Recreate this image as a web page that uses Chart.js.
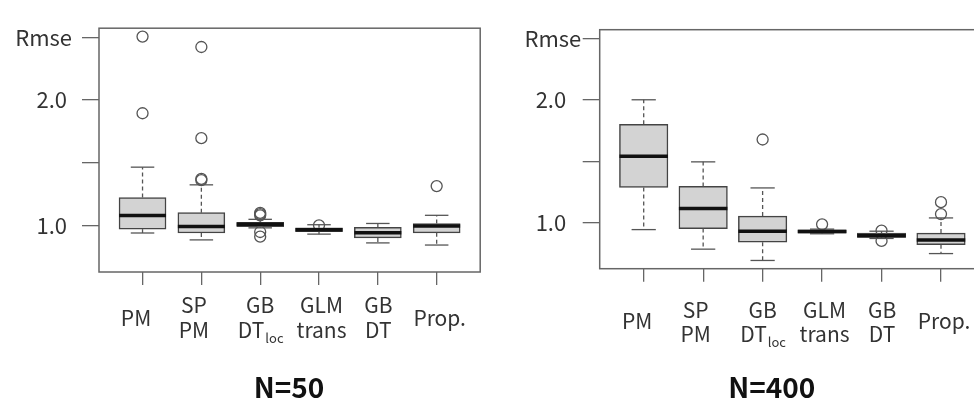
<!DOCTYPE html>
<html>
<head>
<meta charset="utf-8">
<script src="https://cdn.jsdelivr.net/npm/chart.js@4.4.0/dist/chart.umd.min.js"></script>
<style>
html, body { margin: 0; padding: 0; background: #fff; overflow: hidden; }
#wrap { position: relative; width: 974px; height: 401px; overflow: hidden; }
#c50 { position: absolute; left: 0; top: 0; }
#c400 { position: absolute; left: 487px; top: 0; }
</style>
</head>
<body>
<div id="wrap">
  <canvas id="c50" width="487" height="401" style="width:487px;height:401px"></canvas>
  <canvas id="c400" width="505" height="401" style="width:505px;height:401px"></canvas>
</div>
<script>
// categories (DT_loc -> "loc" drawn as subscript)
const categories = [['PM'], ['SP', 'PM'], ['GB', 'DT_loc'], ['GLM', 'trans'], ['GB', 'DT'], ['Prop.']];
const yTicks = [1.0, 1.5, 2.0, 2.5];
const yTickLabels = ['1.0', '', '2.0', ''];
const yName = 'Rmse';

// N=50
const n50Low = [0.939, 0.884, 0.980, 0.930, 0.860, 0.843];
const n50Q1 = [0.970, 0.939, 0.990, 0.950, 0.900, 0.940];
const n50Median = [1.078, 0.990, 1.008, 0.965, 0.940, 0.995];
const n50Q3 = [1.222, 1.101, 1.025, 0.980, 0.985, 1.015];
const n50High = [1.464, 1.323, 1.048, 1.005, 1.015, 1.080];
const n50Outliers = [[2.505, 1.894], [2.422, 1.695, 1.371, 1.360], [1.100, 1.090, 1.080, 0.947, 0.910], [1.000], [], [1.313]];

// N=400
const n400Low = [0.946, 0.787, 0.695, 0.912, 0.874, 0.751];
const n400Q1 = [1.289, 0.954, 0.843, 0.918, 0.882, 0.823];
const n400Median = [1.543, 1.118, 0.933, 0.930, 0.897, 0.862];
const n400Q3 = [1.802, 1.297, 1.056, 0.944, 0.918, 0.918];
const n400High = [2.002, 1.497, 1.285, 0.950, 0.933, 1.041];
const n400Outliers = [[], [], [1.679], [0.989], [0.938, 0.854], [1.169, 1.072]];

Chart.defaults.font.family = "'Noto Sans CJK JP', 'Noto Sans', sans-serif";
Chart.defaults.color = '#333';

const labelShift = [-6.5, -7.5, 0, 2.5, 0.5, 3];

const boxPlugin = {
    id: 'boxParts',
    afterDatasetsDraw(chart, args, o) {
        const { ctx, scales: { x, y } } = chart;
        const half = o.boxWidth / 2;
        const line = (x1, y1, x2, y2) => {
            ctx.beginPath(); ctx.moveTo(x1, y1); ctx.lineTo(x2, y2); ctx.stroke();
        };
        ctx.save();
        for (let i = 0; i < o.median.length; i++) {
            const cx = x.getPixelForValue(i);
            ctx.strokeStyle = '#555';
            ctx.lineWidth = 1.3;
            ctx.setLineDash([4, 3]);
            line(cx, y.getPixelForValue(o.q3[i]), cx, y.getPixelForValue(o.high[i]));
            line(cx, y.getPixelForValue(o.q1[i]), cx, y.getPixelForValue(o.low[i]));
            ctx.setLineDash([]);
            line(cx - half / 2, y.getPixelForValue(o.high[i]), cx + half / 2, y.getPixelForValue(o.high[i]));
            line(cx - half / 2, y.getPixelForValue(o.low[i]), cx + half / 2, y.getPixelForValue(o.low[i]));
            ctx.strokeStyle = '#111';
            ctx.lineWidth = 3.5;
            line(cx - half, y.getPixelForValue(o.median[i]), cx + half, y.getPixelForValue(o.median[i]));
        }
        ctx.restore();
    },
    afterDraw(chart, args, o) {
        const { ctx, chartArea: a, scales: { x, y } } = chart;
        ctx.save();
        // frame
        ctx.strokeStyle = '#666';
        ctx.lineWidth = 1.5;
        ctx.strokeRect(a.left, a.top, a.right - a.left, a.bottom - a.top);
        // y name at top tick
        ctx.fillStyle = '#333';
        ctx.font = "22px 'Noto Sans CJK JP'";
        ctx.textAlign = 'right';
        ctx.textBaseline = 'middle';
        ctx.fillText(yName, a.left - o.nameGap, y.getPixelForValue(yTicks[3]));
        // category labels
        ctx.font = "21px 'Noto Sans CJK JP'";
        categories.forEach((lines, i) => {
            const cx = x.getPixelForValue(i) + labelShift[i];
            const ys = lines.length === 1 ? [o.labelMid] : o.labelLines;
            lines.forEach((t, k) => {
                if (t.includes('_')) {
                    const [main, sub] = t.split('_');
                    ctx.font = "21px 'Noto Sans CJK JP'";
                    const w1 = ctx.measureText(main).width;
                    ctx.font = "13px 'Noto Sans CJK JP'";
                    const w2 = ctx.measureText(sub).width;
                    const left = cx - (w1 + w2) / 2;
                    ctx.textAlign = 'left';
                    ctx.font = "21px 'Noto Sans CJK JP'";
                    ctx.fillText(main, left, ys[k]);
                    ctx.font = "13px 'Noto Sans CJK JP'";
                    ctx.fillText(sub, left + w1 + 1, ys[k] + 8);
                    ctx.font = "21px 'Noto Sans CJK JP'";
                } else {
                    ctx.textAlign = 'center';
                    ctx.fillText(t, cx, ys[k]);
                }
            });
        });
        // panel title
        ctx.font = "bold 28px 'Noto Sans CJK JP'";
        ctx.fillStyle = '#111';
        ctx.textAlign = 'center';
        ctx.fillText(o.title, o.titleX, o.titleY);
        ctx.restore();
    }
};

function makeChart(id, s, geo) {
    const boxes = s.q1.map((v, i) => ({ x: i, y: [v, s.q3[i]] }));
    const points = [];
    s.outliers.forEach((arr, i) => arr.forEach(v => points.push({ x: i, y: v })));
    new Chart(document.getElementById(id), {
        type: 'bar',
        data: {
            datasets: [{
                type: 'scatter',
                data: points,
                pointRadius: 5.5,
                pointBorderWidth: 1.3,
                borderColor: '#555',
                backgroundColor: 'rgba(0,0,0,0)',
                order: 0
            }, {
                data: boxes,
                backgroundColor: '#d3d3d3',
                borderColor: '#444',
                borderWidth: 1.5,
                borderSkipped: false,
                barThickness: geo.boxWidth,
                grouped: false,
                order: 1
            }]
        },
        options: {
            responsive: false,
            animation: false,
            layout: { padding: { top: geo.top, right: geo.right, left: 0, bottom: 0 } },
            plugins: {
                legend: { display: false },
                tooltip: { enabled: false },
                boxParts: {
                    boxWidth: geo.boxWidth,
                    low: s.low, q1: s.q1, median: s.median, q3: s.q3, high: s.high,
                    nameGap: geo.nameGap,
                    labelMid: geo.labelMid, labelLines: geo.labelLines,
                    title: geo.title, titleX: geo.titleX, titleY: geo.titleY
                }
            },
            scales: {
                x: {
                    type: 'linear',
                    min: -0.74,
                    max: 5.74,
                    offset: false,
                    afterBuildTicks: sc => { sc.ticks = categories.map((c, i) => ({ value: i })); },
                    afterFit: sc => { sc.height = geo.bottomSpace; },
                    ticks: { display: false },
                    grid: { offset: false, drawOnChartArea: false, tickLength: 13, color: '#666', lineWidth: 1.3 },
                    border: { display: false }
                },
                y: {
                    min: 0.628,
                    max: 2.572,
                    afterBuildTicks: sc => { sc.ticks = yTicks.map(v => ({ value: v })); },
                    afterFit: sc => { sc.width = geo.left; },
                    ticks: {
                        padding: geo.tickPad,
                        font: { size: 22 },
                        color: '#333',
                        callback: (v, i) => yTickLabels[i]
                    },
                    grid: { drawOnChartArea: false, tickLength: 17, color: '#666', lineWidth: 1.3 },
                    border: { display: false }
                }
            }
        },
        plugins: [boxPlugin]
    });
}

makeChart('c50', {
    low: n50Low, q1: n50Q1, median: n50Median, q3: n50Q3, high: n50High, outliers: n50Outliers
}, {
    top: 14, right: 6, left: 99, bottomSpace: 129, boxWidth: 47, tickPad: 15, nameGap: 27,
    labelMid: 318, labelLines: [305, 330.5], title: 'N=50', titleX: 289, titleY: 387
});

makeChart('c400', {
    low: n400Low, q1: n400Q1, median: n400Median, q3: n400Q3, high: n400High, outliers: n400Outliers
}, {
    top: 17.3, right: 7, left: 112.7, bottomSpace: 132.3, boxWidth: 48.5, tickPad: 16.5, nameGap: 18.4,
    labelMid: 321.5, labelLines: [310, 334], title: 'N=400', titleX: 284.7, titleY: 387
});
</script>
</body>
</html>
